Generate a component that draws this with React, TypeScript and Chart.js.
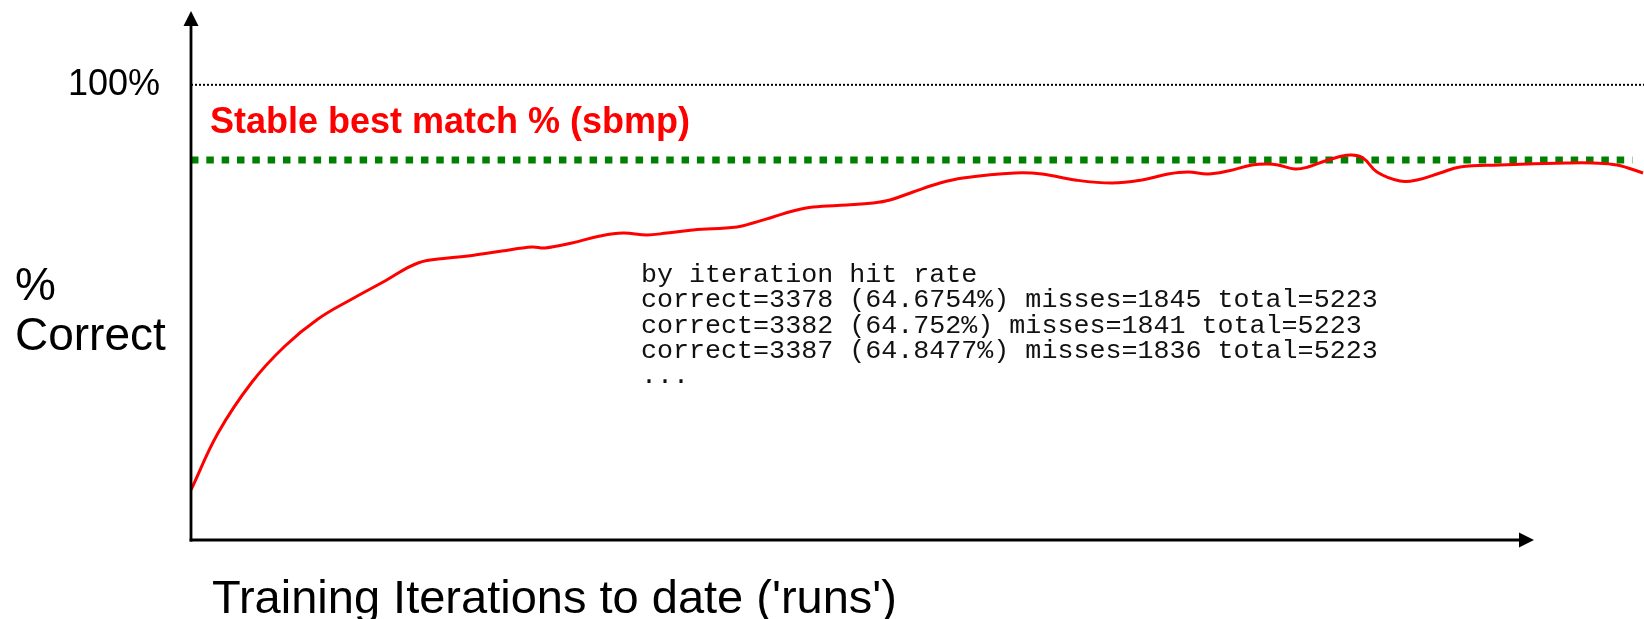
import { useEffect, useRef } from 'react';
import { Chart, registerables } from 'chart.js';

Chart.register(...registerables);

// Training iterations (relative, 0..100) and % correct readings
const runs = [
  0, 1.86, 4.2, 6.47, 8.74, 11.08, 13.35, 15.62, 17.69, 19.06, 21.4, 23.47, 24.36, 26.22, 28.15,
  29.73, 31.38, 32.76, 34.55, 37.58, 38.68, 40.06, 41.43, 42.81, 45.15, 46.94, 48.11, 49.69, 51.55,
  53.13, 56.71, 58.57, 60.84, 63.39, 65.45, 67.24, 68.62, 69.99, 71.37, 73.02, 74.12, 74.81, 75.98,
  76.88, 78.25, 79.77, 80.66, 81.62, 83.21, 84.38, 85.96, 87.34, 90.09, 94.7, 96.49, 98.14, 99.93,
];
const pctCorrect = [
  11.0, 23.51, 34.71, 42.62, 48.55, 52.95, 56.9, 60.86, 61.95, 62.39, 63.49, 64.37, 64.15, 65.25,
  66.79, 67.45, 67.01, 67.45, 68.11, 68.77, 69.64, 70.96, 72.28, 73.16, 73.6, 74.04, 74.7, 76.45,
  78.43, 79.53, 80.63, 80.41, 79.09, 78.43, 79.09, 80.41, 80.85, 80.41, 81.07, 82.39, 82.61, 82.39,
  81.51, 81.95, 83.48, 84.58, 83.92, 80.85, 78.87, 79.09, 80.63, 81.95, 82.39, 82.83, 82.83, 82.39,
  80.63,
];

const sbmpLevel = 83.5;
const sbmpRuns = [0, 99.2];
const fullLevel = 100;
const fullRuns = [0, 100];
const xAxisEnd = 92.43;

const yTickValues = [100];
const yTickLabels = ['100%'];

const sbmpLabel = 'Stable best match % (sbmp)';
const yTitleLines = ['%', 'Correct'];
const xTitle = "Training Iterations to date ('runs')";
const logLines = [
  'by iteration hit rate',
  'correct=3378 (64.6754%) misses=1845 total=5223',
  'correct=3382 (64.752%) misses=1841 total=5223',
  'correct=3387 (64.8477%) misses=1836 total=5223',
  '...',
];

const SANS = '"Liberation Sans", Arial, sans-serif';
const MONO = '"Liberation Mono", "Courier New", monospace';

export default function App() {
  const ref = useRef<HTMLCanvasElement>(null);

  useEffect(() => {
    const canvas = ref.current!;
    const decor = {
      id: 'decor',
      afterDraw(chart: any) {
        const { ctx, chartArea, scales } = chart;
        const x = scales.x;
        const y = scales.y;
        ctx.save();
        const x0 = chartArea.left;
        const y0 = y.getPixelForValue(0);
        const xe = x.getPixelForValue(xAxisEnd);
        const yt = chartArea.top - 1;
        ctx.strokeStyle = '#000';
        ctx.fillStyle = '#000';
        ctx.lineWidth = 2.8;
        ctx.setLineDash([]);
        ctx.beginPath();
        ctx.moveTo(x0, y0 + 1.4);
        ctx.lineTo(x0, yt + 14);
        ctx.stroke();
        ctx.beginPath();
        ctx.moveTo(x0 - 1.4, y0);
        ctx.lineTo(xe - 14, y0);
        ctx.stroke();
        ctx.beginPath();
        ctx.moveTo(x0, yt);
        ctx.lineTo(x0 - 7.5, yt + 15);
        ctx.lineTo(x0 + 7.5, yt + 15);
        ctx.closePath();
        ctx.fill();
        ctx.beginPath();
        ctx.moveTo(xe, y0);
        ctx.lineTo(xe - 15, y0 - 7.5);
        ctx.lineTo(xe - 15, y0 + 7.5);
        ctx.closePath();
        ctx.fill();

        ctx.textAlign = 'left';
        ctx.textBaseline = 'alphabetic';
        ctx.font = `46px ${SANS}`;
        ctx.fillText(yTitleLines[0], 15, 300);
        ctx.fillText(yTitleLines[1], 15, 350);

        ctx.font = `47px ${SANS}`;
        ctx.fillText(xTitle, 212, 613);

        ctx.fillStyle = '#ff0000';
        ctx.font = `bold 36px ${SANS}`;
        ctx.fillText(sbmpLabel, 210, 133);

        ctx.fillStyle = '#111';
        ctx.font = `26.7px ${MONO}`;
        logLines.forEach((line, i) => ctx.fillText(line, 641, 282 + i * 25.3));
        ctx.restore();
      },
    };

    const chart = new Chart(canvas, {
      type: 'line',
      data: {
        datasets: [
          {
            label: 'hit rate',
            data: runs.map((r, i) => ({ x: r, y: pctCorrect[i] })),
            borderColor: '#ff0000',
            borderWidth: 3,
            pointRadius: 0,
            tension: 0.4,
            fill: false,
          },
          {
            label: 'sbmp',
            data: sbmpRuns.map((r) => ({ x: r, y: sbmpLevel })),
            borderColor: '#008000',
            borderWidth: 7,
            borderDash: [7.5, 7.83],
            borderCapStyle: 'butt',
            pointRadius: 0,
            fill: false,
          },
          {
            label: '100%',
            data: fullRuns.map((r) => ({ x: r, y: fullLevel })),
            borderColor: '#000',
            borderWidth: 2,
            borderDash: [2, 2],
            borderCapStyle: 'butt',
            pointRadius: 0,
            fill: false,
          },
        ],
      },
      options: {
        animation: false,
        responsive: false,
        devicePixelRatio: 1,
        layout: { padding: { top: 12, right: 0, left: 0, bottom: 0 } },
        plugins: { legend: { display: false }, tooltip: { enabled: false } },
        scales: {
          x: {
            type: 'linear',
            min: 0,
            max: 100,
            grid: { display: false, drawTicks: false },
            border: { display: false },
            ticks: { display: false },
            afterFit: (s: any) => {
              s.height = 79;
              s.paddingLeft = 0;
              s.paddingRight = 0;
            },
          },
          y: {
            type: 'linear',
            min: 0,
            max: 116,
            grid: { display: false, drawTicks: false },
            border: { display: false },
            afterBuildTicks: (s: any) => {
              s.ticks = yTickValues.map((v) => ({ value: v }));
            },
            ticks: {
              padding: 31,
              color: '#000',
              font: { family: SANS, size: 36 },
              callback: (v: any) => {
                const i = yTickValues.indexOf(Number(v));
                return i >= 0 ? yTickLabels[i] : '';
              },
            },
            afterFit: (s: any) => {
              s.width = 191;
              s.paddingTop = 0;
              s.paddingBottom = 0;
            },
          },
        },
      } as any,
      plugins: [decor],
    });
    return () => chart.destroy();
  }, []);

  return (
    <div style={{ position: 'fixed', left: 0, top: 0, width: 1644, height: 619, background: '#fff' }}>
      <canvas ref={ref} width={1644} height={619} style={{ width: 1644, height: 619, display: 'block' }} />
    </div>
  );
}
